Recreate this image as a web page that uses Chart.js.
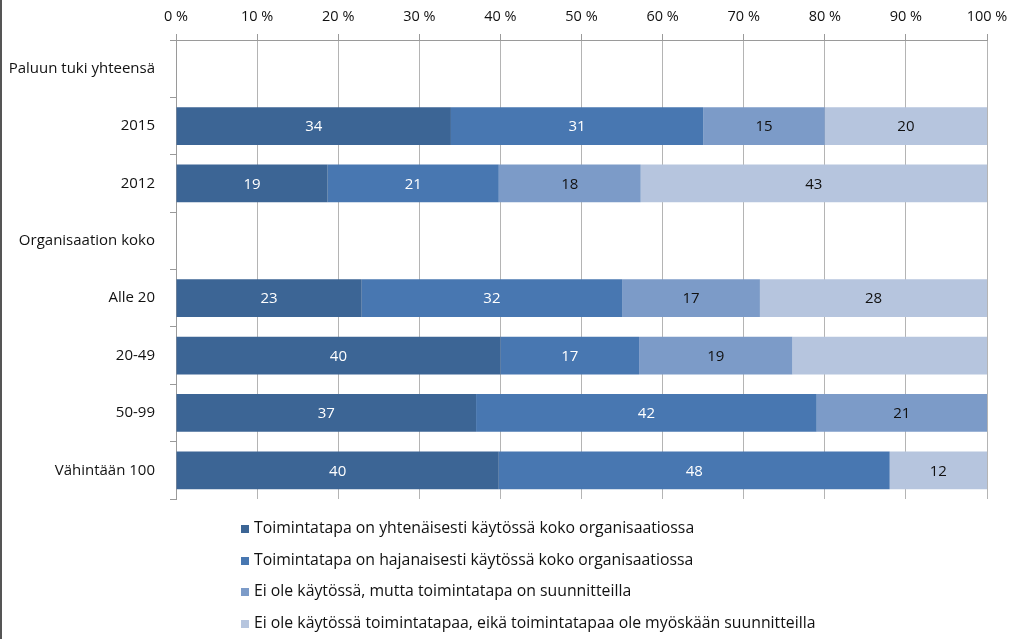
<!DOCTYPE html>
<html lang="fi">

<head>
    <meta charset="UTF-8">
    <meta name="viewport" content="width=device-width, initial-scale=1.0">
    <script src="https://cdn.jsdelivr.net/npm/chart.js@4.4.1/dist/chart.umd.min.js"></script>
    <title>Toimintatapa organisaatioissa</title>
</head>

<body>

    <div id="wrap">
        <canvas id="myChart"></canvas>
        <div id="leftLine"></div>
        <div id="legend"></div>
    </div>

    <style>
        html, body {
            margin: 0;
            padding: 0;
            background: #fff;
        }

        #wrap {
            position: relative;
            width: 1024px;
            height: 639px;
            overflow: hidden;
        }

        #leftLine {
            position: absolute;
            left: 0;
            top: 0;
            width: 2px;
            height: 639px;
            background: #555;
        }

        #legend {
            position: absolute;
            left: 241px;
            top: 512px;
            font-family: "Open Sans", sans-serif;
            font-size: 15.8px;
            color: #111;
        }

        .legendRow {
            height: 31.5px;
            line-height: 30px;
            white-space: nowrap;
        }

        .legendBox {
            display: inline-block;
            width: 8px;
            height: 8px;
            margin-right: 5px;
            vertical-align: 0px;
        }
    </style>

    <script>
        // categories (rows of the chart)
        const categories = ['Paluun tuki yhteensä', '2015', '2012', 'Organisaation koko',
            'Alle 20', '20-49', '50-99', 'Vähintään 100'];

        const seriesNames = [
            'Toimintatapa on yhtenäisesti käytössä koko organisaatiossa',
            'Toimintatapa on hajanaisesti käytössä koko organisaatiossa',
            'Ei ole käytössä, mutta toimintatapa on suunnitteilla',
            'Ei ole käytössä toimintatapaa, eikä toimintatapaa ole myöskään suunnitteilla'
        ];

        // share in percent
        const yhtenaisesti = [null, 33.9, 18.7, null, 22.9, 40.0, 37.0, 39.8];
        const hajanaisesti = [null, 31.1, 21.1, null, 32.1, 17.1, 42.0, 48.2];
        const suunnitteilla = [null, 15.0, 17.5, null, 17.0, 18.9, 21.0, 0];
        const eiSuunnitteilla = [null, 20.0, 42.7, null, 28.0, 24.0, 0, 12.0];

        // numbers printed on the bars (null = not shown)
        const labels1 = [null, 34, 19, null, 23, 40, 37, 40];
        const labels2 = [null, 31, 21, null, 32, 17, 42, 48];
        const labels3 = [null, 15, 18, null, 17, 19, 21, null];
        const labels4 = [null, 20, 43, null, 28, null, null, 12];

        const xTicks = [0, 10, 20, 30, 40, 50, 60, 70, 80, 90, 100];

        const colors = ['#3c6595', '#4877b1', '#7c9bc8', '#b6c5de'];
        const labelColors = ['#ffffff', '#ffffff', '#111111', '#111111'];

        const allValues = [yhtenaisesti, hajanaisesti, suunnitteilla, eiSuunnitteilla];
        const allLabels = [labels1, labels2, labels3, labels4];

        // simple in-bar value labels (no datalabels plugin offline)
        const barValues = {
            id: 'barValues',
            afterDatasetsDraw(chart) {
                const ctx = chart.ctx;
                ctx.save();
                ctx.font = '15px "Open Sans", sans-serif';
                ctx.textAlign = 'center';
                ctx.textBaseline = 'middle';
                chart.data.datasets.forEach((ds, i) => {
                    const meta = chart.getDatasetMeta(i);
                    meta.data.forEach((bar, j) => {
                        const txt = ds.shownLabels[j];
                        if (txt === null || txt === undefined) return;
                        ctx.fillStyle = ds.labelColor;
                        ctx.fillText(String(txt), (bar.x + bar.base) / 2, bar.y + 1);
                    });
                });
                ctx.restore();
            }
        };

        var graph;
        window.addEventListener('load', () => {
            makeGraph();
        });

        function makeGraph() {
            var ctx = document.getElementById('myChart').getContext('2d');

            const data = {
                labels: categories,
                datasets: allValues.map((vals, i) => ({
                    label: seriesNames[i],
                    data: vals,
                    backgroundColor: colors[i],
                    borderWidth: 0,
                    categoryPercentage: 1,
                    barPercentage: 0.66,
                    shownLabels: allLabels[i],
                    labelColor: labelColors[i]
                }))
            };

            const config = {
                type: 'bar',
                data: data,
                plugins: [barValues],
                options: {
                    indexAxis: 'y',
                    responsive: false,
                    animation: false,
                    layout: {
                        padding: { left: 0, right: 37, top: 0, bottom: 140 }
                    },
                    plugins: {
                        legend: { display: false },
                        tooltip: { enabled: false }
                    },
                    scales: {
                        x: {
                            position: 'top',
                            stacked: true,
                            min: 0,
                            max: 100,
                            afterBuildTicks: (scale) => {
                                scale.ticks = xTicks.map(v => ({ value: v }));
                            },
                            afterFit: (scale) => {
                                scale.height = 40;
                            },
                            ticks: {
                                padding: 8,
                                color: '#111',
                                font: { family: '"Open Sans", sans-serif', size: 14.5 },
                                callback: (v) => v + ' %'
                            },
                            grid: {
                                color: '#b4b4b4',
                                tickLength: 6,
                                tickColor: '#9a9a9a'
                            },
                            border: { display: true, color: '#9a9a9a' }
                        },
                        y: {
                            stacked: true,
                            afterFit: (scale) => {
                                scale.width = 176;
                            },
                            ticks: {
                                padding: 15,
                                color: '#111',
                                font: { family: '"Open Sans", sans-serif', size: 15 }
                            },
                            grid: {
                                offset: true,
                                drawOnChartArea: false,
                                tickLength: 6,
                                tickColor: '#9a9a9a'
                            },
                            border: { display: true, color: '#9a9a9a' }
                        }
                    }
                }
            };

            const canvas = document.getElementById('myChart');
            canvas.width = 1024;
            canvas.height = 639;
            graph = new Chart(ctx, config);

            // legend list built from the datasets
            const legend = document.getElementById('legend');
            graph.data.datasets.forEach((ds) => {
                const row = document.createElement('div');
                row.className = 'legendRow';
                const box = document.createElement('span');
                box.className = 'legendBox';
                box.style.background = ds.backgroundColor;
                row.appendChild(box);
                row.appendChild(document.createTextNode(ds.label));
                legend.appendChild(row);
            });
        }
    </script>
</body>

</html>
